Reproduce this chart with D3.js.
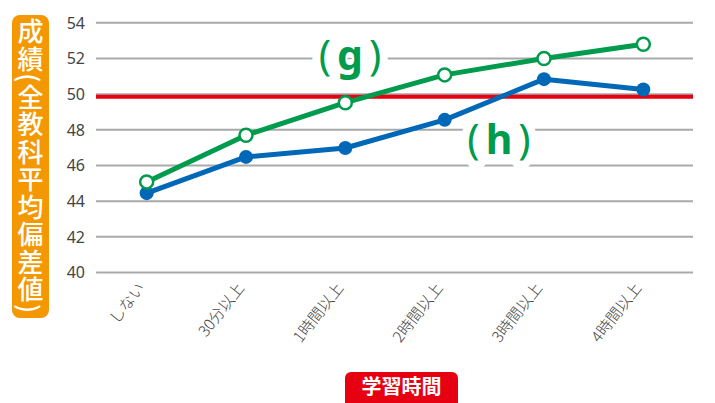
<!DOCTYPE html>
<html><head><meta charset="utf-8">
<script src="https://cdn.jsdelivr.net/npm/d3@7"></script>
<style>
html,body{margin:0;padding:0;background:#fff;}
svg{display:block;}
</style></head>
<body>
<svg id="chart" width="715" height="403"></svg>
<script>
const categories = ["しない","30分以上","1時間以上","2時間以上","3時間以上","4時間以上"];
const seriesG = [45.08, 47.70, 49.52, 51.08, 52.00, 52.80];
const seriesH = [44.45, 46.48, 46.98, 48.56, 50.84, 50.26];
const yTicks = [40,42,44,46,48,50,52,54];
const refValue = 49.85;
const yTitle = "成績(全教科平均偏差値)";
const xTitle = "学習時間";

const svg = d3.select("#chart");
const green = "#009B4C", blue = "#0068B7", red = "#E60012", orange = "#F39800";

const x = d3.scalePoint().domain(categories).range([97, 693]).padding(0.5);
const y = d3.scaleLinear().domain([40, 54]).range([272.5, 22.8]);

// gridlines
svg.append("g").selectAll("line").data(yTicks).join("line")
  .attr("x1", 96).attr("x2", 693)
  .attr("y1", d => y(d)).attr("y2", d => y(d))
  .attr("stroke", "#a9a9a9").attr("stroke-width", 2);

// y tick labels
svg.append("g").selectAll("text").data(yTicks).join("text")
  .attr("x", 85).attr("y", d => y(d)).attr("dy", "0.36em")
  .attr("text-anchor", "end")
  .attr("font-family", "'Noto Sans', sans-serif").attr("font-size", 16)
  .attr("fill", "#444").text(d => d);

// reference line
svg.append("line").attr("x1", 96).attr("x2", 693)
  .attr("y1", y(refValue)).attr("y2", y(refValue))
  .attr("stroke", red).attr("stroke-width", 4);

// x labels
svg.append("g").selectAll("text").data(categories).join("text")
  .attr("transform", d => `translate(${x(d) - 1},${288}) rotate(-52)`)
  .attr("text-anchor", "end")
  .attr("font-family", "'Noto Sans CJK JP', sans-serif").attr("font-size", 15.5)
  .attr("font-weight", 300)
  .attr("fill", "#444").text(d => d);

// series lines
const line = d3.line().x((d, i) => x(categories[i])).y(d => y(d));
svg.append("path").datum(seriesH).attr("d", line)
  .attr("fill", "none").attr("stroke", blue).attr("stroke-width", 5).attr("stroke-linejoin", "round");
svg.append("path").datum(seriesG).attr("d", line)
  .attr("fill", "none").attr("stroke", green).attr("stroke-width", 5).attr("stroke-linejoin", "round");

svg.append("g").selectAll("circle").data(seriesH).join("circle")
  .attr("cx", (d, i) => x(categories[i])).attr("cy", d => y(d)).attr("r", 7)
  .attr("fill", blue);
svg.append("g").selectAll("circle").data(seriesG).join("circle")
  .attr("cx", (d, i) => x(categories[i])).attr("cy", d => y(d)).attr("r", 6.5)
  .attr("fill", "#fff").attr("stroke", green).attr("stroke-width", 2.5);

// series labels (g) and (h)
function seriesLabel(cx, by, letter) {
  const t = svg.append("text").attr("x", cx).attr("y", by)
    .attr("text-anchor", "middle")
    .attr("font-family", "'Noto Sans', sans-serif").attr("font-size", 41)
    .attr("fill", green)
    .attr("stroke", "#fff").attr("stroke-width", 16).attr("stroke-linejoin", "round")
    .style("paint-order", "stroke");
  t.append("tspan").attr("font-weight", 400).text("(");
  t.append("tspan").attr("font-weight", 700).attr("dx", 6).text(letter);
  t.append("tspan").attr("font-weight", 400).attr("dx", 6).text(")");
}
seriesLabel(350, 70, "g");
seriesLabel(499, 154, "h");

// y title (single vertical text)
svg.append("rect").attr("x", 12).attr("y", 15).attr("width", 37).attr("height", 303)
  .attr("rx", 8).attr("fill", orange);
svg.append("text").attr("x", 30.5).attr("y", 166.5)
  .attr("text-anchor", "middle")
  .style("writing-mode", "vertical-rl")
  .style("letter-spacing", "1.5px")
  .attr("font-family", "'Noto Sans CJK JP', sans-serif").attr("font-size", 26)
  .attr("font-weight", 500).attr("fill", "#fff").text(yTitle);

// x title
svg.append("rect").attr("x", 345).attr("y", 372).attr("width", 113).attr("height", 36)
  .attr("rx", 6).attr("fill", red);
svg.append("text").attr("x", 401.5).attr("y", 394)
  .attr("text-anchor", "middle")
  .attr("font-family", "'Noto Sans CJK JP', sans-serif").attr("font-size", 20)
  .attr("font-weight", 700).attr("fill", "#fff").text(xTitle);
</script>
</body></html>
